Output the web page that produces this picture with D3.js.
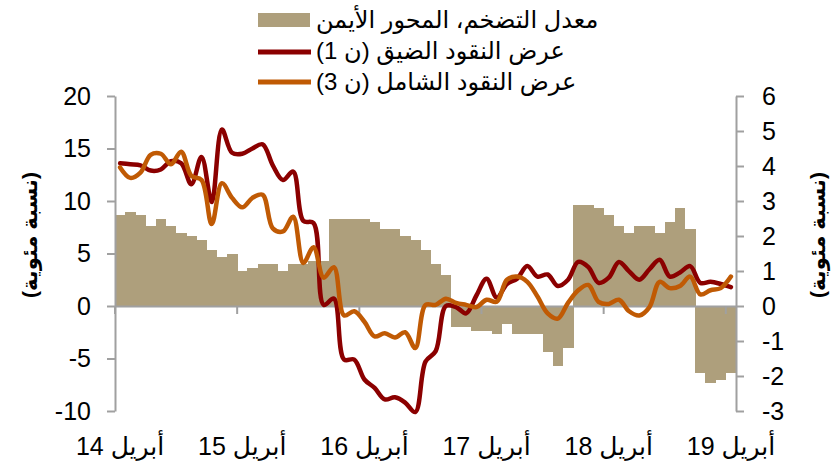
<!DOCTYPE html>
<html>
<head>
<meta charset="utf-8">
<script src="https://cdn.jsdelivr.net/npm/d3@7"></script>
<style>
  body { margin: 0; background: #fff; }
  text { font-family: "Liberation Sans", Arial, "DejaVu Sans", sans-serif; fill: #000; }
</style>
</head>
<body>
<svg id="chart" width="836" height="467"></svg>
<script>
// monthly, April 2014 .. April 2019
var months = d3.timeMonth.range(new Date(2014, 3, 1), new Date(2019, 4, 1));

// inflation rate, right axis (%)
var inflation = [2.6, 2.7, 2.6, 2.3, 2.5, 2.3, 2.1, 2.0, 1.9, 1.6, 1.4, 1.5,
    1.0, 1.1, 1.2, 1.2, 1.0, 1.2, 1.2, 1.3, 1.3, 2.5, 2.5, 2.5,
    2.5, 2.4, 2.2, 2.2, 2.0, 1.9, 1.6, 1.2, 0.9, -0.6, -0.6, -0.7,
    -0.7, -0.8, -0.5, -0.8, -0.8, -0.8, -1.3, -1.7, -1.2, 2.9, 2.9, 2.8,
    2.6, 2.3, 2.1, 2.3, 2.3, 2.1, 2.4, 2.8, 2.2, -1.9, -2.2, -2.1,
    -1.9];

// M1 growth, left axis (%)
var m1 = [13.6, 13.5, 13.4, 12.9, 13.0, 13.8, 13.6, 11.6, 14.2, 9.9, 16.8, 14.6,
    14.5, 15.0, 15.4, 13.4, 12.0, 12.8, 8.1, 7.9, 0.1, 0.7, -5.1, -5.1,
    -7.0, -7.8, -8.9, -8.7, -9.2, -10.1, -5.3, -4.3, 0.0, -0.1, -0.7, 1.0,
    2.6, 0.8, 2.1, 2.6, 3.8, 2.8, 3.0, 1.9, 2.5, 4.2, 3.7, 2.2,
    2.7, 4.2, 3.3, 2.5, 3.5, 4.4, 2.8, 3.2, 3.8, 2.2, 2.3, 2.1,
    1.8];

// M3 growth, left axis (%)
var m3 = [13.2, 12.2, 12.7, 14.4, 14.5, 13.5, 14.7, 12.4, 12.0, 7.8, 11.7, 10.3,
    9.4, 10.3, 10.6, 7.4, 7.1, 8.5, 4.1, 5.6, 2.7, 3.7, -0.9, -0.5,
    -1.5, -2.9, -2.6, -3.0, -2.5, -4.0, 0.1, 0.1, 0.7, 0.3, 0.1, -0.1,
    0.6, 0.4, 2.5, 2.8, 2.3, 0.9, -0.7, -1.2, 0.3, 1.5, 2.0, 0.4,
    0.2, 0.6, -0.5, -0.9, -0.1, 2.3, 1.7, 1.9, 2.8, 1.1, 1.5, 1.7,
    2.8];

var tickIdx = [0, 12, 24, 36, 48, 60];
var tickLabels = ["أبريل 14", "أبريل 15", "أبريل 16", "أبريل 17", "أبريل 18", "أبريل 19"];
var leftTicks = [-10, -5, 0, 5, 10, 15, 20];
var rightTicks = [-3, -2, -1, 0, 1, 2, 3, 4, 5, 6];

var legendLabels = ["معدل التضخم، المحور الأيمن", "عرض النقود الضيق (ن 1)", "عرض النقود الشامل (ن 3)"];
var axisTitle = "(نسبة مئوية)";

var colBar = "#ae9f7c", colM1 = "#8b0000", colM3 = "#c05a04", colAxis = "#a0a0a0";

var svg = d3.select("#chart");

var x = d3.scaleBand().domain(d3.range(months.length)).range([115, 736]).padding(0);
var bw = x.bandwidth();
var yL = d3.scaleLinear().domain([-10, 20]).range([411, 96]);
var yR = d3.scaleLinear().domain([-3, 6]).range([411, 96]);

// plain hyphen for negatives, like the original
var fmt = function(d){ return String(d); };

// bars
svg.append("g").selectAll("rect")
    .data(inflation)
    .enter().append("rect")
    .attr("x", function(d, i){ return x(i); })
    .attr("width", bw + 0.4)
    .attr("y", function(d){ return yR(Math.max(0, d)); })
    .attr("height", function(d){ return Math.abs(yR(d) - yR(0)); })
    .attr("fill", colBar)
    .attr("shape-rendering", "crispEdges");

function styleAxis(g){
    g.selectAll("path, line").attr("stroke", colAxis).attr("stroke-width", 2);
    g.selectAll("text").style("font-size", "25px").attr("fill", "#000");
}

// left axis
svg.append("g")
    .attr("transform", "translate(115,0)")
    .call(d3.axisLeft(yL).tickValues(leftTicks).tickFormat(fmt)
        .tickSize(8).tickSizeOuter(0).tickPadding(16))
    .call(styleAxis);

// right axis
svg.append("g")
    .attr("transform", "translate(736,0)")
    .call(d3.axisRight(yR).tickValues(rightTicks).tickFormat(fmt)
        .tickSize(8).tickSizeOuter(0).tickPadding(18))
    .call(styleAxis);

// x axis on the zero line
var xAxis = svg.append("g")
    .attr("transform", "translate(0," + yL(0) + ")")
    .call(d3.axisBottom(x).tickValues(tickIdx).tickSize(8).tickSizeOuter(0)
        .tickFormat(function(d){ return tickLabels[tickIdx.indexOf(d)]; }))
    .call(styleAxis);
xAxis.selectAll(".tick line").attr("transform", "translate(" + (-bw / 2) + ",0)");
xAxis.selectAll(".tick text")
    .attr("y", 149).attr("dy", null)
    .attr("direction", "rtl")
    .attr("text-anchor", "middle");

// lines
var line = function(yScale){
    return d3.line()
        .x(function(d, i){ return x(i) + bw / 2; })
        .y(function(d){ return yScale(d); })
        .curve(d3.curveCatmullRom.alpha(0.5));
};

svg.append("path").datum(m1)
    .attr("d", line(yL))
    .attr("fill", "none").attr("stroke", colM1).attr("stroke-width", 4.5)
    .attr("stroke-linejoin", "round").attr("stroke-linecap", "round");

svg.append("path").datum(m3)
    .attr("d", line(yL))
    .attr("fill", "none").attr("stroke", colM3).attr("stroke-width", 4.5)
    .attr("stroke-linejoin", "round").attr("stroke-linecap", "round");

// axis titles
[[30, 235], [818, 235]].forEach(function(p){
    svg.append("text")
        .attr("transform", "translate(" + p[0] + "," + p[1] + ") rotate(-90)")
        .attr("direction", "rtl")
        .attr("text-anchor", "middle")
        .attr("dy", "0.35em")
        .style("font-size", "21px")
        .style("font-weight", "bold")
        .text(axisTitle);
});

// legend
var legend = svg.append("g");
legend.append("rect").attr("x", 258).attr("y", 13).attr("width", 52).attr("height", 14).attr("fill", colBar);
legend.append("line").attr("x1", 258).attr("x2", 311).attr("y1", 52).attr("y2", 52)
    .attr("stroke", colM1).attr("stroke-width", 5);
legend.append("line").attr("x1", 258).attr("x2", 311).attr("y1", 82).attr("y2", 82)
    .attr("stroke", colM3).attr("stroke-width", 5);
legend.selectAll("text.lab")
    .data(legendLabels)
    .enter().append("text")
    .attr("class", "lab")
    .attr("x", 316)
    .attr("y", function(d, i){ return 20 + i * 31; })
    .attr("dy", "0.35em")
    .attr("direction", "rtl")
    .attr("text-anchor", "end")
    .style("font-size", "24px")
    .text(function(d){ return d; });
</script>
</body>
</html>
